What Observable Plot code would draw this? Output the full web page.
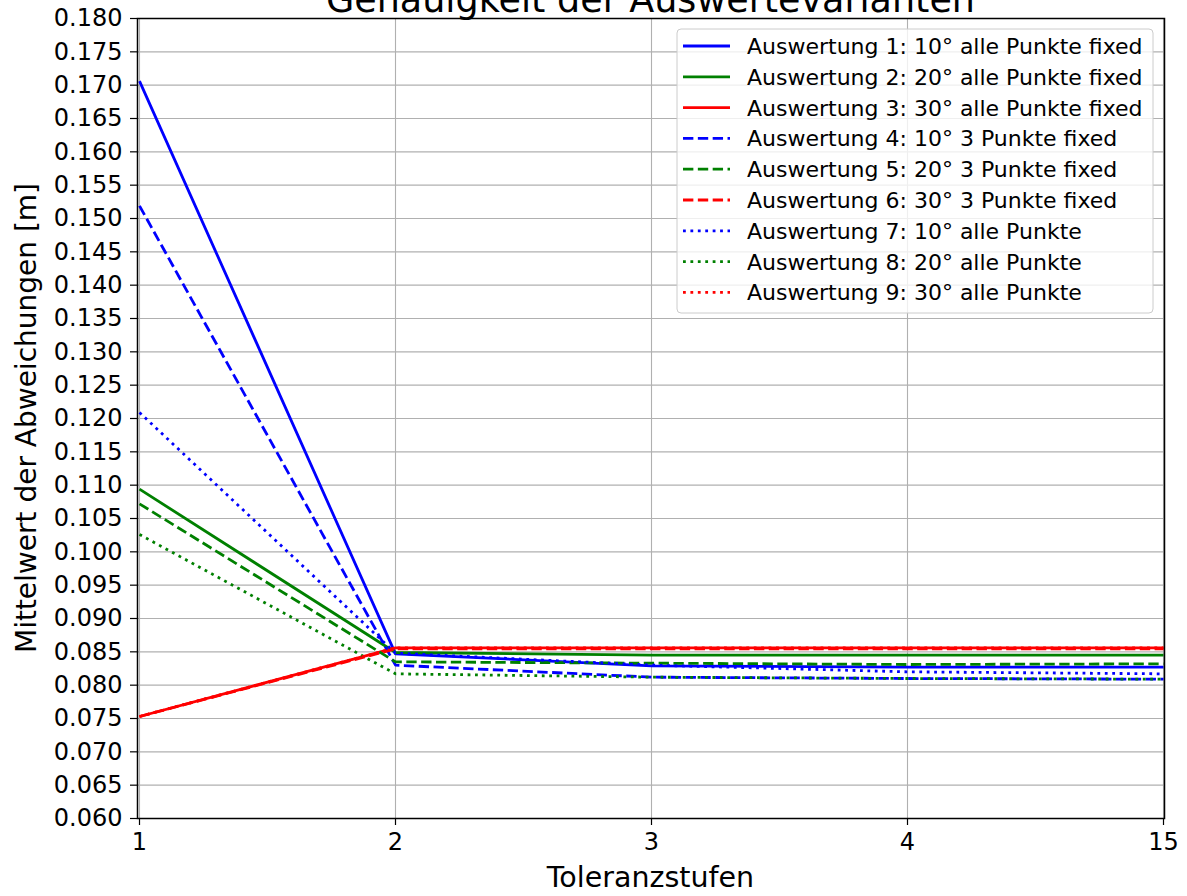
<!DOCTYPE html>
<html><head><meta charset="utf-8">
<script src="https://cdn.jsdelivr.net/npm/d3@7"></script>
<script src="https://cdn.jsdelivr.net/npm/@observablehq/plot@0.6"></script>
<style>
body{margin:0;background:#fff;}
#wrap{position:relative;width:1187px;height:896px;overflow:hidden;font-family:"DejaVu Sans";}
#wrap svg.overlay{position:absolute;left:0;top:0;pointer-events:none;}
</style>
</head><body><div id="wrap"></div>
<script>
// ---- data ----
const titel = "Genauigkeit der Auswertevarianten";
const xLabel = "Toleranzstufen";
const yLabel = "Mittelwert der Abweichungen [m]";
const stufen = ["1", "2", "3", "4", "15"];
const auswertung1 = [0.1706, 0.0847, 0.0829, 0.0827, 0.0827];
const auswertung2 = [0.1094, 0.0849, 0.0845, 0.0845, 0.0845];
const auswertung3 = [0.0753, 0.0856, 0.0856, 0.0856, 0.0856];
const auswertung4 = [0.1519, 0.0830, 0.0812, 0.0810, 0.0809];
const auswertung5 = [0.1072, 0.0835, 0.0833, 0.0831, 0.0832];
const auswertung6 = [0.0753, 0.08545, 0.08545, 0.08545, 0.08545];
const auswertung7 = [0.1209, 0.0848, 0.0830, 0.0820, 0.0817];
const auswertung8 = [0.1026, 0.0817, 0.0812, 0.0810, 0.0809];
const auswertung9 = [0.0753, 0.0856, 0.0856, 0.0856, 0.0856];
const seriesNames = [
  "Auswertung 1: 10° alle Punkte fixed",
  "Auswertung 2: 20° alle Punkte fixed",
  "Auswertung 3: 30° alle Punkte fixed",
  "Auswertung 4: 10° 3 Punkte fixed",
  "Auswertung 5: 20° 3 Punkte fixed",
  "Auswertung 6: 30° 3 Punkte fixed",
  "Auswertung 7: 10° alle Punkte",
  "Auswertung 8: 20° alle Punkte",
  "Auswertung 9: 30° alle Punkte"
];
const seriesValues = [auswertung1, auswertung2, auswertung3, auswertung4, auswertung5, auswertung6, auswertung7, auswertung8, auswertung9];
const seriesColors = ["#0000ff", "#008000", "#ff0000", "#0000ff", "#008000", "#ff0000", "#0000ff", "#008000", "#ff0000"];
const seriesStyles = ["solid", "solid", "solid", "dashed", "dashed", "dashed", "dotted", "dotted", "dotted"];
const yTicks = d3.range(12, 37).map(i => +(i * 0.005).toFixed(3));

// ---- styles ----
const LW = 2.8;
const dashFor = s => s === "dashed" ? `${3.7*LW},${1.6*LW}` : s === "dotted" ? `${1*LW},${1.65*LW}` : null;
const W = 1187, H = 896;
const M = {left: 137, right: 23, top: 18, bottom: 78};

const rows = [];
seriesNames.forEach((name, i) => {
  stufen.forEach((s, j) => rows.push({serie: name, idx: i, stufe: s, wert: seriesValues[i][j]}));
});

const lineMarks = seriesNames.map((name, i) =>
  Plot.line(rows.filter(r => r.idx === i), {
    x: "stufe", y: "wert",
    stroke: seriesColors[i],
    strokeWidth: LW,
    strokeDasharray: dashFor(seriesStyles[i]),
    strokeLinecap: "butt",
    strokeLinejoin: "round"
  })
);

const chart = Plot.plot({
  width: W, height: H,
  marginLeft: M.left, marginRight: M.right, marginTop: M.top, marginBottom: M.bottom,
  style: {fontFamily: "DejaVu Sans", fontSize: "24px", color: "black", background: "white", overflow: "visible"},
  x: {type: "point", domain: stufen, padding: 0},
  y: {domain: [0.06, 0.18]},
  marks: [
    Plot.gridY(yTicks, {stroke: "#b0b0b0", strokeOpacity: 1, strokeWidth: 1.1}),
    Plot.gridX(stufen, {stroke: "#b0b0b0", strokeOpacity: 1, strokeWidth: 1.1}),
    ...lineMarks,
    Plot.frame({stroke: "black", strokeWidth: 1.5}),
    Plot.axisY(yTicks, {tickFormat: d3.format(".3f"), tickSize: 7, tickPadding: 8, label: null, fontSize: 24, stroke: "black", strokeWidth: 1.2}),
    Plot.axisX(stufen, {tickSize: 7, tickPadding: 7, label: null, fontSize: 24, stroke: "black", strokeWidth: 1.2})
  ]
});
const wrap = document.getElementById("wrap");
wrap.appendChild(chart);

// ---- overlay: title, axis labels, legend ----
const ov = d3.select(wrap).append("svg").attr("class", "overlay")
  .attr("width", W).attr("height", H)
  .style("font-family", "DejaVu Sans");
const cx = M.left + (W - M.left - M.right) / 2;
ov.append("text").attr("x", cx).attr("y", 12).attr("text-anchor", "middle")
  .attr("font-size", 36.5).attr("fill", "black").text(titel);
ov.append("text").attr("x", cx).attr("y", 887).attr("text-anchor", "middle")
  .attr("font-size", 28.5).attr("fill", "black").text(xLabel);
const cy = M.top + (H - M.top - M.bottom) / 2;
ov.append("text").attr("transform", `translate(36,${cy}) rotate(-90)`).attr("text-anchor", "middle")
  .attr("font-size", 28).attr("fill", "black").text(yLabel);

const lg = ov.append("g").attr("transform", "translate(677,29)");
lg.append("rect").attr("width", 476).attr("height", 284).attr("rx", 4)
  .attr("fill", "white").attr("fill-opacity", 0.8).attr("stroke", "#cccccc").attr("stroke-width", 1);
seriesNames.forEach((name, i) => {
  const yy = 17 + i * 30.8;
  lg.append("line").attr("x1", 6).attr("x2", 53).attr("y1", yy).attr("y2", yy)
    .attr("stroke", seriesColors[i]).attr("stroke-width", LW)
    .attr("stroke-dasharray", dashFor(seriesStyles[i]));
  lg.append("text").attr("x", 70).attr("y", yy).attr("dy", "0.36em")
    .attr("font-size", 22).attr("fill", "black").text(name);
});
</script>
</body></html>
